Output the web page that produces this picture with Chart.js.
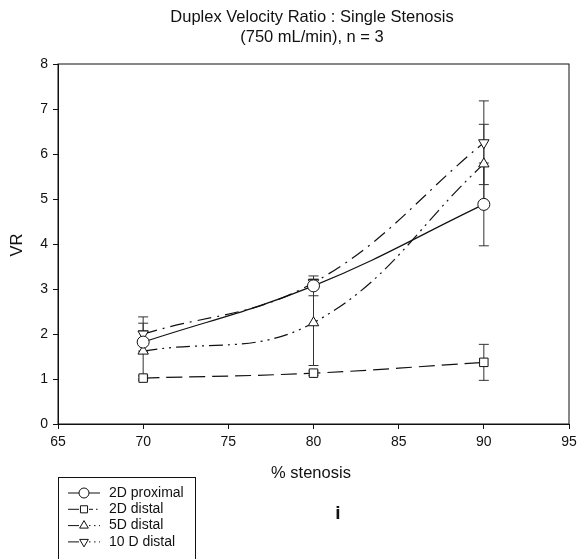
<!DOCTYPE html>
<html lang="en">
<head>
    <meta charset="UTF-8">
    <title>Duplex Velocity Ratio</title>
    <script src="https://cdn.jsdelivr.net/npm/chart.js"></script>
    <style>
        body { margin: 0; background: #fff; }
        #wrap { width: 579px; height: 559px; position: relative; }
    </style>
</head>
<body>
    <div id="wrap">
        <canvas id="vrChart" width="579" height="559"></canvas>
    </div>

    <script>
        // Velocity ratio by degree of stenosis, mean and error per position
        const stenosis = [70, 80, 90];

        const proximal2D = [1.82, 3.07, 4.88];
        const proximal2DErr = [0.25, 0.22, 0.92];

        const distal2D = [1.02, 1.13, 1.37];
        const distal2DErr = [0.05, 0.05, 0.40];

        const distal5D = [1.62, 2.25, 5.78];
        const distal5DErr = [0.62, 0.95, 0.88];

        const distal10D = [2.00, 3.14, 6.25];
        const distal10DErr = [0.38, 0.08, 0.93];

        const xTicks = [65, 70, 75, 80, 85, 90, 95];
        const yTicks = [0, 1, 2, 3, 4, 5, 6, 7, 8];

        const FONT = "'Liberation Sans', Arial, sans-serif";

        const toPoints = vals => vals.map((v, i) => ({ x: stenosis[i], y: v }));

        function series(label, vals, errs, style, dash, rotation) {
            return {
                label: label,
                data: toPoints(vals),
                errors: errs,
                borderColor: '#111',
                borderWidth: 1.2,
                borderDash: dash,
                tension: 0.4,
                fill: false,
                pointStyle: style,
                pointRotation: rotation || 0,
                pointRadius: 6,
                pointBackgroundColor: '#fff',
                pointBorderColor: '#111',
                pointBorderWidth: 1
            };
        }

        // vertical error bars with caps
        const errorBars = {
            id: 'errorBars',
            beforeDatasetsDraw(chart) {
                const ctx = chart.ctx;
                const xs = chart.scales.x, ys = chart.scales.y;
                ctx.save();
                ctx.strokeStyle = '#333';
                ctx.lineWidth = 1;
                chart.data.datasets.forEach(ds => {
                    ds.data.forEach((p, i) => {
                        const e = ds.errors[i];
                        const px = xs.getPixelForValue(p.x);
                        const top = ys.getPixelForValue(p.y + e);
                        const bot = ys.getPixelForValue(p.y - e);
                        ctx.beginPath();
                        ctx.moveTo(px, top); ctx.lineTo(px, bot);
                        ctx.moveTo(px - 5, top); ctx.lineTo(px + 5, top);
                        ctx.moveTo(px - 5, bot); ctx.lineTo(px + 5, bot);
                        ctx.stroke();
                    });
                });
                ctx.restore();
            }
        };

        // frame, titles, legend box
        const decorations = {
            id: 'decorations',
            afterDraw(chart) {
                const ctx = chart.ctx;
                const a = chart.chartArea;
                ctx.save();
                ctx.strokeStyle = '#111';
                ctx.lineWidth = 1;
                ctx.strokeRect(a.left, a.top, a.right - a.left, a.bottom - a.top);

                ctx.fillStyle = '#111';
                ctx.textAlign = 'center';
                ctx.textBaseline = 'middle';
                ctx.font = '16.5px ' + FONT;
                ctx.fillText('Duplex Velocity Ratio : Single Stenosis', 312, 17);
                ctx.fillText('(750 mL/min), n = 3', 312, 37);
                ctx.fillText('% stenosis', 311, 473);

                ctx.save();
                ctx.translate(17, 245);
                ctx.rotate(-Math.PI / 2);
                ctx.fillText('VR', 0, 0);
                ctx.restore();

                ctx.font = 'bold 19px ' + FONT;
                ctx.fillText('i', 338, 514);

                // legend
                ctx.strokeRect(58.5, 477.5, 137, 100);
                ctx.font = '14px ' + FONT;
                ctx.textAlign = 'left';
                const names = ['2D proximal', '2D distal', '5D distal', '10 D distal'];
                chart.data.datasets.forEach((ds, i) => {
                    const y = 493 + i * 16.3;
                    ctx.save();
                    ctx.strokeStyle = '#111';
                    ctx.lineWidth = 1;
                    ctx.beginPath();
                    ctx.moveTo(68, y); ctx.lineTo(79, y);
                    ctx.stroke();
                    ctx.setLineDash(i === 0 ? [] : (i === 1 ? [4, 3, 1.5, 3] : [1.5, 3.5]));
                    ctx.beginPath();
                    ctx.moveTo(89, y); ctx.lineTo(100, y);
                    ctx.stroke();
                    ctx.restore();
                    ctx.fillStyle = '#fff';
                    ctx.strokeStyle = '#111';
                    ctx.lineWidth = 1;
                    Chart.helpers.drawPoint(ctx, {
                        pointStyle: ds.pointStyle,
                        rotation: ds.pointRotation,
                        radius: 5,
                        borderWidth: 1
                    }, 84, y);
                    ctx.fillStyle = '#111';
                    ctx.fillText(names[i], 109, y);
                });
                ctx.restore();
            }
        };

        const ctx = document.getElementById('vrChart').getContext('2d');
        new Chart(ctx, {
            type: 'line',
            data: {
                datasets: [
                    series('2D proximal', proximal2D, proximal2DErr, 'circle', []),
                    series('2D distal', distal2D, distal2DErr, 'rect', [16, 7]),
                    series('5D distal', distal5D, distal5DErr, 'triangle', [14, 5, 2, 5, 2, 5]),
                    series('10 D distal', distal10D, distal10DErr, 'triangle', [14, 6, 2, 6], 180)
                ]
            },
            options: {
                responsive: false,
                animation: false,
                devicePixelRatio: 1,
                layout: { padding: { top: 64, right: 10, bottom: 0, left: 0 } },
                plugins: {
                    legend: { display: false },
                    title: { display: false },
                    tooltip: { enabled: false }
                },
                scales: {
                    x: {
                        type: 'linear',
                        min: 65,
                        max: 95,
                        afterBuildTicks: s => { s.ticks = xTicks.map(v => ({ value: v })); },
                        afterFit: s => { s.height = 135; s.paddingRight = 0; s.paddingLeft = 0; },
                        grid: { drawOnChartArea: false, color: '#111', tickLength: 5 },
                        border: { color: '#111' },
                        ticks: { color: '#111', padding: 5, font: { family: FONT, size: 14 } }
                    },
                    y: {
                        min: 0,
                        max: 8,
                        afterBuildTicks: s => { s.ticks = yTicks.map(v => ({ value: v })); },
                        afterFit: s => { s.width = 58; },
                        grid: { drawOnChartArea: false, color: '#111', tickLength: 5 },
                        border: { color: '#111' },
                        ticks: { color: '#111', padding: 5, font: { family: FONT, size: 14 } }
                    }
                }
            },
            plugins: [errorBars, decorations]
        });
    </script>
</body>
</html>
